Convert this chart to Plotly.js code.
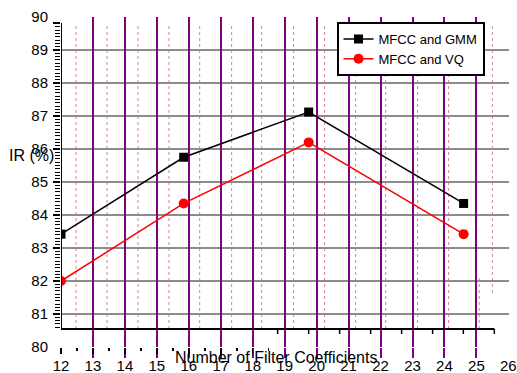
<!DOCTYPE html>
<html>
<head>
<meta charset="utf-8">
<script src="https://cdn.plot.ly/plotly-3.0.1.min.js"></script>
<style>html,body{margin:0;padding:0;background:#fff;}#chart{width:517px;height:373px;}</style>
</head>
<body>
<div id="chart"></div>
<script>
// ---- data ----
const xValues = [12, 15.84, 19.75, 24.6];
const gmmIR = [83.42, 85.75, 87.12, 84.35];
const vqIR = [82.0, 84.35, 86.2, 83.42];
const seriesNames = ['MFCC and GMM', 'MFCC and VQ'];
const xTickLabels = [12, 13, 14, 15, 16, 17, 18, 19, 20, 21, 22, 23, 24, 25, 26];
const yTickLabels = [80, 81, 82, 83, 84, 85, 86, 87, 88, 89, 90];
const yGridVals = [81, 82, 83, 84, 85, 86, 87, 88, 89];
const purpleGridX = [13, 14, 15, 16, 17, 18, 19, 20, 21, 22, 23, 24, 25];
const dottedGridX = [12.47, 13.44, 14.41, 15.38, 16.34, 17.34, 18.28, 19.28, 20.25, 21.22, 22.16, 23.16, 24.13];
const bottomMajorTicks = [12, 13, 14, 15, 16, 17, 18];
const bottomMinorTicks = [12.5, 13.5, 14.5, 15.5, 16.5, 17.5, 18.5];
const upperAxisTicks = [18.78, 19.75, 20.72, 21.69, 22.66, 23.63, 24.59, 25.56];
const axisBottomY = 80.545, axisTopY = 89.82;

const FONT = 'Liberation Sans, Arial, sans-serif';
const X_RANGE = [12, 26.02];

// ruler ticks on y axis
const rulerMinor = [];
for (let v = 806; v <= 898; v++) { if (v % 10 !== 0) rulerMinor.push(v / 10); }

// empty helper traces so that the overlay axes are drawn
function holder(xa, ya) {
  return {x: [null], y: [null], xaxis: xa, yaxis: ya, type: 'scatter', mode: 'markers',
    showlegend: false, hoverinfo: 'skip'};
}

const traces = [
  holder('x2', 'y'), holder('x3', 'y'), holder('x', 'y2'), holder('x', 'y3'),
  {x: xValues, y: gmmIR, name: seriesNames[0], type: 'scatter', mode: 'lines+markers',
   line: {color: '#000000', width: 1.5}, marker: {symbol: 'square', size: 9, color: '#000000'}},
  {x: xValues, y: vqIR, name: seriesNames[1], type: 'scatter', mode: 'lines+markers',
   line: {color: '#ff0000', width: 1.5}, marker: {symbol: 'circle', size: 10, color: '#ff0000'}}
];

const shapes = [];
dottedGridX.forEach(x => shapes.push({type: 'line', xref: 'x', yref: 'y', x0: x, x1: x, y0: axisBottomY, y1: axisTopY,
  line: {color: '#d08a8a', width: 1, dash: 'dot'}, layer: 'below'}));
shapes.push({type: 'line', xref: 'x', yref: 'y', x0: 25.09, x1: 25.09, y0: axisBottomY, y1: 82.12,
  line: {color: '#d08a8a', width: 1, dash: 'dot'}, layer: 'below'});
shapes.push({type: 'line', xref: 'x', yref: 'y', x0: 25.5, x1: 25.5, y0: 81.64, y1: axisTopY,
  line: {color: '#d08a8a', width: 1, dash: 'dot'}, layer: 'below'});
// upper axis line and its ticks
shapes.push({type: 'line', xref: 'x', yref: 'y', x0: 11.78, x1: 25.56, y0: axisBottomY, y1: axisBottomY,
  line: {color: '#000000', width: 2}});
upperAxisTicks.forEach(x => shapes.push({type: 'line', xref: 'x', yref: 'y', x0: x, x1: x, y0: axisBottomY, y1: axisBottomY - 0.15,
  line: {color: '#000000', width: 1.5}}));
// y axis line
shapes.push({type: 'line', xref: 'x', yref: 'y', x0: 12, x1: 12, y0: axisBottomY, y1: axisTopY,
  line: {color: '#000000', width: 2}});

const layout = {
  width: 517, height: 373,
  margin: {l: 61, r: 8, t: 17, b: 26},
  paper_bgcolor: '#ffffff', plot_bgcolor: 'rgba(0,0,0,0)',
  font: {family: FONT, color: '#000000', size: 15},
  showlegend: true,
  legend: {x: 0.615, y: 0.985, xanchor: 'left', yanchor: 'top', bgcolor: '#ffffff',
    bordercolor: '#000000', borderwidth: 2, font: {family: FONT, size: 13, color: '#000000'},
    tracegroupgap: 0},
  xaxis: {range: X_RANGE, tickmode: 'array', tickvals: xTickLabels, ticktext: xTickLabels.map(String),
    ticks: 'outside', ticklen: 5, tickcolor: 'rgba(0,0,0,0)', showgrid: false, zeroline: false,
    showline: false, tickfont: {size: 15}, automargin: false},
  xaxis2: {range: X_RANGE, overlaying: 'x', anchor: 'y', side: 'bottom', tickmode: 'array', tickvals: purpleGridX,
    showticklabels: false, ticks: 'outside', ticklen: 10, tickwidth: 2, tickcolor: '#800080',
    showgrid: true, gridcolor: '#800080', gridwidth: 2, zeroline: false, showline: false},
  xaxis3: {range: X_RANGE, overlaying: 'x', anchor: 'y', side: 'bottom', tickmode: 'array', tickvals: bottomMajorTicks,
    showticklabels: false, ticks: 'outside', ticklen: 6, tickwidth: 1.5, tickcolor: '#000000',
    minor: {tickmode: 'array', tickvals: bottomMinorTicks, ticks: 'outside', ticklen: 3, tickwidth: 1.5, tickcolor: '#000000', showgrid: false},
    showgrid: false, zeroline: false, showline: false},
  yaxis: {range: [80, 90], tickmode: 'array', tickvals: yTickLabels, ticktext: yTickLabels.map(String),
    ticks: 'outside', ticklen: 9, tickcolor: 'rgba(0,0,0,0)', showgrid: false, zeroline: false, showline: false,
    tickfont: {size: 15}},
  yaxis2: {range: [80, 90], overlaying: 'y', anchor: 'x', side: 'left', tickmode: 'array', tickvals: yGridVals,
    showticklabels: false, ticks: '', showgrid: true, gridcolor: '#8c8c8c', gridwidth: 2,
    zeroline: false, showline: false},
  yaxis3: {range: [80, 90], overlaying: 'y', anchor: 'x', side: 'left', tickmode: 'array', tickvals: [81, 82, 83, 84, 85, 86, 87, 88, 89, 89.82],
    showticklabels: false, ticks: 'outside', ticklen: 7, tickwidth: 1.5, tickcolor: '#000000',
    minor: {tickmode: 'array', tickvals: rulerMinor, ticks: 'outside', ticklen: 5, tickwidth: 1, tickcolor: '#000000', showgrid: false},
    showgrid: false, zeroline: false, showline: false},
  shapes: shapes,
  annotations: [
    {text: 'Number of Filter Coefficients', xref: 'paper', yref: 'paper', x: 0.48, y: -0.033,
     xanchor: 'center', yanchor: 'middle', showarrow: false, font: {family: FONT, size: 16, color: '#000000'}},
    {text: 'IR (%)', xref: 'paper', yref: 'paper', x: -0.065, y: 0.58,
     xanchor: 'center', yanchor: 'middle', showarrow: false, font: {family: FONT, size: 16, color: '#000000'}}
  ]
};

Plotly.newPlot('chart', traces, layout, {displayModeBar: false, staticPlot: true});
</script>
</body>
</html>
